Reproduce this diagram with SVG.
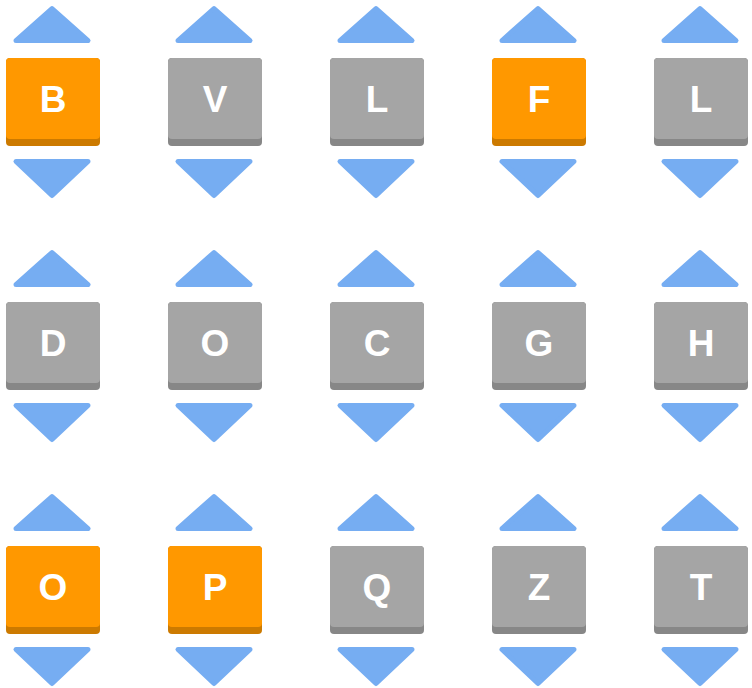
<svg xmlns="http://www.w3.org/2000/svg" width="752" height="688" viewBox="0 0 752 688">
<defs>
<style>
.tri{fill:#76adf2;stroke:#76adf2;stroke-width:5;stroke-linejoin:round}
.g{--b:#878787;--f:#a5a5a5}
.o{--b:#cc7a00;--f:#ff9800}
.b{fill:var(--b)}.f{fill:var(--f)}
text{font-family:"Liberation Sans",Arial,sans-serif;font-weight:bold;font-size:37px;fill:#fff;text-anchor:middle}
</style>
<g id="cell">
<path class="tri" d="M46,8.5 L82,40.5 L10,40.5 Z"/>
<path class="tri" d="M10,161.5 L82,161.5 L46,195.5 Z"/>
<rect class="b" x="0" y="58" width="94" height="88" rx="4"/>
<rect class="f" x="0" y="58" width="94" height="81" rx="4"/>
</g>
</defs>
<g id="connectors"/>
<g id="n1" class="o" transform="translate(6,0)"><use href="#cell"/><text x="47" y="112">B</text></g>
<g id="n2" class="g" transform="translate(168,0)"><use href="#cell"/><text x="47" y="112">V</text></g>
<g id="n3" class="g" transform="translate(330,0)"><use href="#cell"/><text x="47" y="112">L</text></g>
<g id="n4" class="o" transform="translate(492,0)"><use href="#cell"/><text x="47" y="112">F</text></g>
<g id="n5" class="g" transform="translate(654,0)"><use href="#cell"/><text x="47" y="112">L</text></g>
<g id="n6" class="g" transform="translate(6,244)"><use href="#cell"/><text x="47" y="112">D</text></g>
<g id="n7" class="g" transform="translate(168,244)"><use href="#cell"/><text x="47" y="112">O</text></g>
<g id="n8" class="g" transform="translate(330,244)"><use href="#cell"/><text x="47" y="112">C</text></g>
<g id="n9" class="g" transform="translate(492,244)"><use href="#cell"/><text x="47" y="112">G</text></g>
<g id="n10" class="g" transform="translate(654,244)"><use href="#cell"/><text x="47" y="112">H</text></g>
<g id="n11" class="o" transform="translate(6,488)"><use href="#cell"/><text x="47" y="112">O</text></g>
<g id="n12" class="o" transform="translate(168,488)"><use href="#cell"/><text x="47" y="112">P</text></g>
<g id="n13" class="g" transform="translate(330,488)"><use href="#cell"/><text x="47" y="112">Q</text></g>
<g id="n14" class="g" transform="translate(492,488)"><use href="#cell"/><text x="47" y="112">Z</text></g>
<g id="n15" class="g" transform="translate(654,488)"><use href="#cell"/><text x="47" y="112">T</text></g>
</svg>
